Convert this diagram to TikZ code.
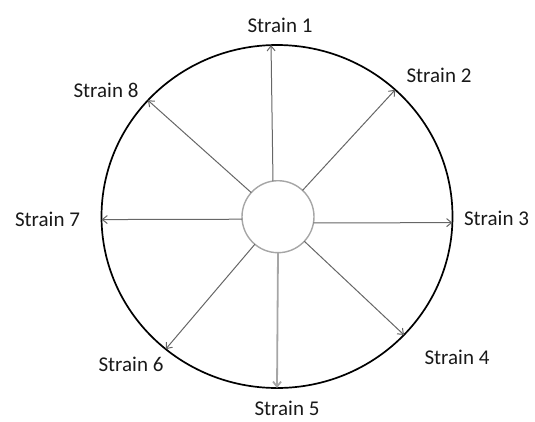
\documentclass[tikz,border=0pt]{standalone}
\usepackage{fontspec}
\setmainfont{Carlito}
\usetikzlibrary{shapes.geometric}
\usetikzlibrary{arrows.meta}
\tikzset{>={Straight Barb[length=5pt,width=8pt]}}
\tikzstyle{rim} = [ellipse, draw=black, line width=1.7pt, minimum width=351pt, minimum height=343pt, inner sep=0pt, outer sep=0pt]
\tikzstyle{hub} = [circle, draw=black!35, line width=1.4pt, minimum size=72pt, inner sep=0pt, outer sep=0pt, fill=white]
\tikzstyle{spoke} = [->, draw=black!60, line width=1pt]
\tikzstyle{strainlabel} = [inner sep=0pt, font=\fontsize{21}{25}\selectfont, text=black!90]

\begin{document}
\begin{tikzpicture}[x=1pt, y=-1pt]
    \useasboundingbox (0,0) rectangle (535,421);
    \node[rim] (ring) at (277,216.5) {};
    \node[hub] (core) at (278,216.7) {};

    \draw[spoke] (core.98) -- (ring.92);
    \draw[spoke] (core.47) -- (ring.47);
    \draw[spoke] (core.-10) -- (ring.-2);
    \draw[spoke] (core.-43) -- (ring.-43);
    \draw[spoke, draw=black!35, line width=1.8pt] (core.270) -- (ring.270);
    \draw[spoke] (core.230) -- (ring.230);
    \draw[spoke] (core.184) -- (ring.181);
    \draw[spoke] (core.138) -- (ring.138);

    \node[strainlabel] (s1) at (280,25) {Strain 1};
    \node[strainlabel] (s2) at (439,75) {Strain 2};
    \node[strainlabel] (s3) at (496.5,218) {Strain 3};
    \node[strainlabel] (s4) at (457,357) {Strain 4};
    \node[strainlabel] (s5) at (287,408) {Strain 5};
    \node[strainlabel] (s6) at (131,364) {Strain 6};
    \node[strainlabel] (s7) at (47.5,219) {Strain 7};
    \node[strainlabel] (s8) at (106,90) {Strain 8};
\end{tikzpicture}
\end{document}
